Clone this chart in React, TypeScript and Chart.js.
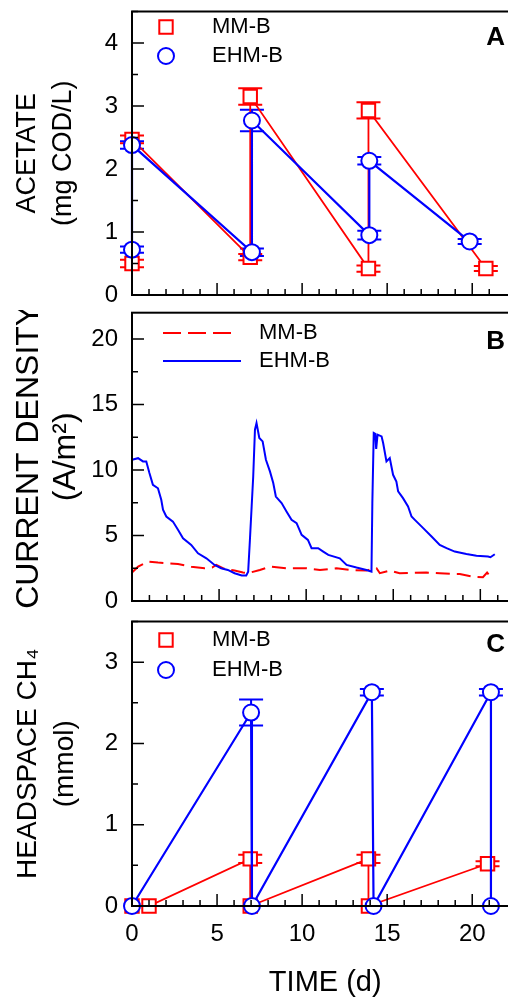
import React, { useEffect, useRef } from "react";
import { Chart, registerables } from "chart.js";
Chart.register(...registerables);

const RED = "#ff0000";
const BLUE = "#0000ff";
const FONT = "'Liberation Sans', Arial, sans-serif";

// ---- Panel A: acetate ----
const acetateMM_x = [0, 0, 6.95, 6.95, 13.9, 13.9, 20.8];
const acetateMM_y = [0.5, 2.47, 0.6, 3.15, 0.42, 2.93, 0.42];
const acetateMM_err = [0.06, 0.06, 0.05, 0.13, 0.05, 0.13, 0.04];
const acetateEHM_x = [0, 0, 7.05, 7.05, 13.95, 13.95, 19.85];
const acetateEHM_y = [0.72, 2.38, 0.68, 2.77, 0.95, 2.13, 0.85];
const acetateEHM_err = [0.05, 0.06, 0.06, 0.17, 0.07, 0.06, 0.04];

// ---- Panel B: current density ----
const currentMM_t = [0, 0.35, 0.92, 1.49, 2.07, 2.64, 3.4, 4.17, 4.6, 4.84, 5.22, 5.89, 6.37, 6.65, 7.34, 7.92, 8.87, 10.02, 10.79, 11.74, 12.51, 13.46, 13.88, 14.04, 14.23, 14.8, 15.37, 16.9, 17.67, 18.44, 18.82, 19.58, 20.15, 20.39, 20.58];
const currentMM_v = [2.17, 2.62, 3.0, 2.93, 2.88, 2.83, 2.62, 2.5, 2.55, 2.75, 2.5, 2.32, 2.17, 2.12, 2.37, 2.62, 2.5, 2.5, 2.37, 2.5, 2.37, 2.32, 2.5, 2.5, 2.12, 2.32, 2.12, 2.17, 2.12, 2.06, 2.06, 1.86, 1.81, 2.17, 1.86];
const currentEHM_t = [0, 0.35, 0.63, 0.82, 1.0, 1.2, 1.49, 1.68, 1.78, 1.97, 2.35, 2.64, 2.93, 3.4, 3.79, 4.27, 4.74, 5.12, 5.5, 5.89, 6.3, 6.56, 6.67, 6.77, 6.87, 6.96, 7.06, 7.15, 7.31, 7.5, 7.69, 7.92, 8.11, 8.26, 8.59, 8.87, 9.16, 9.45, 9.74, 10.1, 10.31, 10.69, 10.98, 11.27, 11.93, 12.32, 12.89, 13.46, 13.75, 13.8, 13.88, 13.97, 14.02, 14.1, 14.33, 14.42, 14.61, 14.8, 14.99, 15.18, 15.28, 15.56, 15.85, 16.05, 16.24, 16.72, 17.2, 17.67, 18.06, 18.53, 19.2, 19.78, 20.44, 20.58, 20.83];
const currentEHM_v = [10.78, 10.9, 10.65, 10.65, 9.76, 8.87, 8.6, 7.72, 6.96, 6.45, 6.06, 5.43, 4.79, 4.28, 3.64, 3.26, 2.75, 2.5, 2.37, 2.12, 1.95, 1.95, 2.24, 4.66, 7.21, 9.5, 13.07, 13.58, 12.44, 12.18, 10.78, 9.89, 9.0, 7.97, 7.47, 6.83, 6.19, 5.94, 5.05, 4.66, 4.03, 4.03, 3.77, 3.52, 3.26, 2.75, 2.55, 2.37, 2.24, 7.47, 12.82, 12.75, 11.6, 12.69, 12.56, 12.06, 10.65, 10.91, 9.63, 9.12, 8.36, 7.85, 7.21, 6.45, 6.19, 5.56, 4.92, 4.28, 4.03, 3.77, 3.59, 3.46, 3.39, 3.34, 3.57];

// ---- Panel C: headspace CH4 ----
const ch4MM_x = [0, 1, 6.95, 6.95, 13.9, 13.9, 20.9];
const ch4MM_y = [0, 0, 0.58, 0, 0.58, 0, 0.52];
const ch4MM_err = [0, 0, 0.05, 0, 0.05, 0, 0.03];
const ch4EHM_x = [0, 7.0, 7.05, 14.1, 14.2, 21.1, 21.1];
const ch4EHM_y = [0, 2.38, 0, 2.63, 0, 2.63, 0];
const ch4EHM_err = [0, 0.16, 0, 0.04, 0, 0.04, 0];

const xTicks = [0, 5, 10, 15, 20];
const seriesNames = ["MM-B", "EHM-B"];

const pts = (xs: number[], ys: number[]) => xs.map((x, i) => ({ x, y: ys[i] }));

const decorPlugin = {
  id: "decor",
  beforeDatasetsDraw(chart: any) {
    const ctx = chart.ctx;
    const ys = chart.scales.y;
    chart.data.datasets.forEach((ds: any, di: number) => {
      const errs = ds.errs;
      if (!errs) return;
      const meta = chart.getDatasetMeta(di);
      ctx.save();
      ctx.strokeStyle = ds.borderColor;
      ctx.lineWidth = 2;
      meta.data.forEach((pt: any, i: number) => {
        const e = errs[i];
        if (!e) return;
        const v = ds.data[i].y;
        const y1 = ys.getPixelForValue(v + e);
        const y2 = ys.getPixelForValue(v - e);
        const x = pt.x;
        ctx.beginPath();
        ctx.moveTo(x, y1); ctx.lineTo(x, y2);
        ctx.moveTo(x - 12, y1); ctx.lineTo(x + 12, y1);
        ctx.moveTo(x - 12, y2); ctx.lineTo(x + 12, y2);
        ctx.stroke();
      });
      ctx.restore();
    });
  },
  afterDraw(chart: any) {
    const o = chart.options.plugins.decor;
    const ctx = chart.ctx;
    const a = chart.chartArea;
    const xs = chart.scales.x;
    const ys = chart.scales.y;
    ctx.save();
    ctx.strokeStyle = "#000";
    ctx.lineWidth = 2;
    ctx.strokeRect(a.left, a.top, a.right - a.left, a.bottom - a.top);
    ctx.lineWidth = 1.5;
    ctx.beginPath();
    for (let v = 0; v <= 21; v += 1) {
      const px = xs.getPixelForValue(v);
      const len = v % 5 === 0 ? 12 : 6;
      ctx.moveTo(px, a.bottom);
      ctx.lineTo(px, a.bottom - len);
    }
    const n = Math.round(o.yMax / o.yMinor);
    for (let i = 0; i <= n; i++) {
      const v = i * o.yMinor;
      const py = ys.getPixelForValue(v);
      const major = Math.abs(v / o.yMajor - Math.round(v / o.yMajor)) < 1e-6;
      ctx.moveTo(a.left, py);
      ctx.lineTo(a.left + (major ? 12 : 6), py);
    }
    ctx.stroke();
    ctx.font = `22px ${FONT}`;
    ctx.textBaseline = "middle";
    ctx.textAlign = "left";
    o.legend.forEach((it: any) => {
      ctx.strokeStyle = it.color;
      ctx.lineWidth = 2;
      ctx.fillStyle = "#fff";
      if (it.kind === "rect") {
        ctx.beginPath();
        ctx.rect(166 - 6.7, it.y - 6.7, 13.4, 13.4);
        ctx.fill(); ctx.stroke();
      } else if (it.kind === "circle") {
        ctx.beginPath();
        ctx.arc(166, it.y, 8, 0, Math.PI * 2);
        ctx.fill(); ctx.stroke();
      } else {
        ctx.beginPath();
        ctx.setLineDash(it.kind === "dash" ? [18, 7] : []);
        ctx.moveTo(163, it.y);
        ctx.lineTo(it.kind === "dash" ? 233 : 241, it.y);
        ctx.stroke();
        ctx.setLineDash([]);
      }
      ctx.fillStyle = "#000";
      ctx.fillText(it.label, it.textX, it.y);
    });
    ctx.font = `bold 26px ${FONT}`;
    ctx.textAlign = "right";
    ctx.fillStyle = "#000";
    ctx.fillText(o.letter, 505, o.letterY);
    ctx.restore();
  },
};

function makeOptions(p: {
  yMax: number; yStep: number; yMinor: number; yTitle: string[]; titleSize: number; titleLH: number; titlePad: number;
  padTop: number; xHeight: number; showX: boolean; letter: string; letterY: number; legend: any[];
}) {
  return {
    responsive: false,
    animation: false,
    devicePixelRatio: 1,
    layout: { padding: { top: p.padTop, right: 2.3, left: 0, bottom: 0 } },
    plugins: {
      legend: { display: false },
      tooltip: { enabled: false },
      decor: { yMax: p.yMax, yMajor: p.yStep, yMinor: p.yMinor, letter: p.letter, letterY: p.letterY, legend: p.legend },
    },
    scales: {
      x: {
        type: "linear",
        min: 0,
        max: 22.72,
        afterFit: (s: any) => { s.height = p.xHeight; s.paddingLeft = 0; s.paddingRight = 0; },
        afterBuildTicks: (s: any) => { s.ticks = xTicks.map((v) => ({ value: v })); },
        grid: { display: false, drawTicks: false },
        border: { display: false },
        ticks: { display: p.showX, font: { family: FONT, size: 24 }, color: "#000", padding: 14, maxRotation: 0 },
        title: {
          display: p.showX,
          text: "TIME (d)",
          color: "#000",
          font: { family: FONT, size: 29, lineHeight: 1.2 },
          padding: { top: 0, bottom: 1 },
        },
      },
      y: {
        type: "linear",
        min: 0,
        max: p.yMax,
        afterFit: (s: any) => { s.width = 132; s.paddingTop = 0; s.paddingBottom = 0; },
        grid: { display: false, drawTicks: false },
        border: { display: false },
        ticks: { stepSize: p.yStep, includeBounds: false, font: { family: FONT, size: 24 }, color: "#000", padding: 14 },
        title: {
          display: true,
          text: p.yTitle,
          color: "#000",
          font: { family: FONT, size: p.titleSize, lineHeight: p.titleLH },
          padding: { top: p.titlePad, bottom: 0 },
        },
      },
    },
  };
}

function markerSet(label: string, data: any[], errs: number[], color: string, style: string) {
  return {
    label,
    data,
    errs,
    borderColor: color,
    backgroundColor: "#fff",
    borderWidth: color === BLUE ? 2.2 : 1.8,
    pointStyle: style,
    pointRadius: style === "rect" ? 9.5 : 8,
    pointBorderWidth: 2,
    pointBackgroundColor: "#fff",
    pointBorderColor: color,
    tension: 0,
    clip: false,
  };
}

export default function App() {
  const refA = useRef<HTMLCanvasElement>(null);
  const refB = useRef<HTMLCanvasElement>(null);
  const refC = useRef<HTMLCanvasElement>(null);

  useEffect(() => {
    const charts: Chart[] = [];
    charts.push(
      new Chart(refA.current as HTMLCanvasElement, {
        type: "line",
        data: {
          datasets: [
            markerSet(seriesNames[1], pts(acetateEHM_x, acetateEHM_y), acetateEHM_err, BLUE, "circle"),
            markerSet(seriesNames[0], pts(acetateMM_x, acetateMM_y), acetateMM_err, RED, "rect"),
          ] as any,
        },
        options: makeOptions({
          yMax: 4.5, yStep: 1, yMinor: 0.5, yTitle: ["ACETATE", "(mg COD/L)"], titleSize: 27, titleLH: 1.33, titlePad: 10,
          padTop: 7, xHeight: 15, showX: false, letter: "A", letterY: 38,
          legend: [
            { kind: "rect", color: RED, label: seriesNames[0], y: 27, textX: 212 },
            { kind: "circle", color: BLUE, label: seriesNames[1], y: 56, textX: 212 },
          ],
        }) as any,
        plugins: [decorPlugin],
      })
    );
    charts.push(
      new Chart(refB.current as HTMLCanvasElement, {
        type: "line",
        data: {
          datasets: [
            {
              label: seriesNames[1],
              data: pts(currentEHM_t, currentEHM_v),
              borderColor: BLUE,
              borderWidth: 2,
              pointRadius: 0,
              tension: 0,
              clip: false,
            },
            {
              label: seriesNames[0],
              data: pts(currentMM_t, currentMM_v),
              borderColor: RED,
              borderWidth: 2,
              borderDash: [14, 7],
              pointRadius: 0,
              tension: 0,
              clip: false,
            },
          ] as any,
        },
        options: makeOptions({
          yMax: 22, yStep: 5, yMinor: 2.5, yTitle: ["CURRENT DENSITY", "(A/m²)"], titleSize: 32, titleLH: 1.16, titlePad: 10.5,
          padTop: 2.7, xHeight: 9, showX: false, letter: "B", letterY: 32,
          legend: [
            { kind: "dash", color: RED, label: seriesNames[0], y: 23, textX: 259 },
            { kind: "line", color: BLUE, label: seriesNames[1], y: 51, textX: 259 },
          ],
        }) as any,
        plugins: [decorPlugin],
      })
    );
    charts.push(
      new Chart(refC.current as HTMLCanvasElement, {
        type: "line",
        data: {
          datasets: [
            markerSet(seriesNames[1], pts(ch4EHM_x, ch4EHM_y), ch4EHM_err, BLUE, "circle"),
            markerSet(seriesNames[0], pts(ch4MM_x, ch4MM_y), ch4MM_err, RED, "rect"),
          ] as any,
        },
        options: makeOptions({
          yMax: 3.5, yStep: 1, yMinor: 0.5, yTitle: ["HEADSPACE CH₄", "(mmol)"], titleSize: 28, titleLH: 1.35, titlePad: 9,
          padTop: 7.3, xHeight: 95, showX: true, letter: "C", letterY: 35,
          legend: [
            { kind: "rect", color: RED, label: seriesNames[0], y: 30, textX: 212 },
            { kind: "circle", color: BLUE, label: seriesNames[1], y: 60, textX: 212 },
          ],
        }) as any,
        plugins: [decorPlugin],
      })
    );
    return () => charts.forEach((c) => c.destroy());
  }, []);

  const cv = (top: number): React.CSSProperties => ({ position: "absolute", left: 0, top, display: "block" });
  return (
    <div style={{ position: "absolute", left: 0, top: 0, width: 508, height: 1001, overflow: "hidden", background: "#fff" }}>
      <canvas ref={refA} width={530} height={310} style={cv(0)} />
      <canvas ref={refB} width={530} height={300} style={cv(310)} />
      <canvas ref={refC} width={530} height={391} style={cv(610)} />
    </div>
  );
}
